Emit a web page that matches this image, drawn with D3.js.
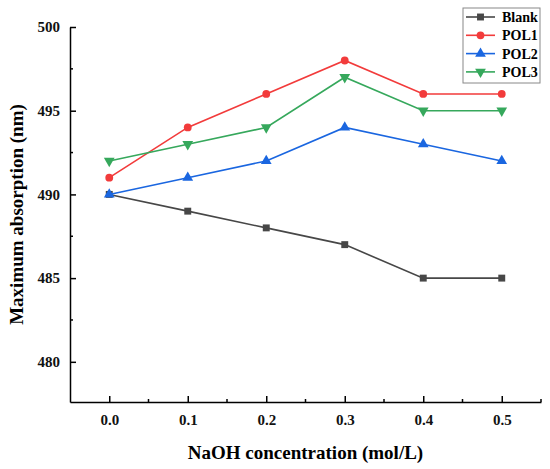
<!DOCTYPE html>
<html lang="en">
<head>
<meta charset="utf-8">
<title>Maximum absorption vs NaOH</title>
<script src="https://d3js.org/d3.v7.min.js"></script>
<style>
body { margin: 0; background: #fff; }
</style>
</head>
<body>
<script>
// data
const naoh = [0.0, 0.1, 0.2, 0.3, 0.4, 0.5];
const blank = [490, 489, 488, 487, 485, 485];
const pol1 = [491, 494, 496, 498, 496, 496];
const pol2 = [490, 491, 492, 494, 493, 492];
const pol3 = [492, 493, 494, 497, 495, 495];
const yTicks = [480, 485, 490, 495, 500];
const xTicks = [0.0, 0.1, 0.2, 0.3, 0.4, 0.5];

const series = [
  {name: "Blank", values: blank, color: "#474747", symbol: d3.symbolSquare, size: 48, rot: 0},
  {name: "POL1", values: pol1, color: "#F23B3B", symbol: d3.symbolCircle, size: 48, rot: 0},
  {name: "POL2", values: pol2, color: "#1A66E0", symbol: d3.symbolTriangle, size: 50, rot: 0},
  {name: "POL3", values: pol3, color: "#36A85C", symbol: d3.symbolTriangle, size: 50, rot: 180}
];

const width = 550, height = 469;
const plotLeft = 70, plotRight = 541, plotTop = 27, plotBottom = 402;
const serif = "Liberation Serif, Tinos, DejaVu Serif, serif";

const svg = d3.select("body").append("svg")
  .attr("width", width)
  .attr("height", height)
  .style("font-family", serif)
  .style("font-weight", "bold");

const x = d3.scaleLinear().domain([-0.05, 0.55]).range([plotLeft, plotRight]);
const y = d3.scaleLinear().domain([477.6, 500]).range([plotBottom, plotTop]);

// x axis, ticks pointing inward
const xAxis = d3.axisBottom(x)
  .tickValues(xTicks)
  .tickFormat(d3.format(".1f"))
  .tickSizeInner(-6)
  .tickSizeOuter(0)
  .tickPadding(12);
const gx = svg.append("g")
  .attr("transform", "translate(0," + plotBottom + ")")
  .call(xAxis);

// minor x ticks
svg.append("g").selectAll("line")
  .data(d3.range(0, 6).map(i => 0.05 + i * 0.1))
  .join("line")
  .attr("x1", d => x(d)).attr("x2", d => x(d))
  .attr("y1", plotBottom).attr("y2", plotBottom - 3)
  .attr("stroke", "#000").attr("stroke-width", 1.5);

// y axis
const yAxis = d3.axisLeft(y)
  .tickValues(yTicks)
  .tickSizeInner(-6)
  .tickSizeOuter(0)
  .tickPadding(10);
const gy = svg.append("g")
  .attr("transform", "translate(" + plotLeft + ",0)")
  .call(yAxis);

svg.append("g").selectAll("line")
  .data([482.5, 487.5, 492.5, 497.5])
  .join("line")
  .attr("x1", plotLeft).attr("x2", plotLeft + 3)
  .attr("y1", d => y(d)).attr("y2", d => y(d))
  .attr("stroke", "#000").attr("stroke-width", 1.5);

[gx, gy].forEach(g => {
  g.selectAll("text")
    .style("font-family", serif)
    .style("font-size", "15px")
    .style("font-weight", "bold")
    .attr("fill", "#111");
});
svg.selectAll(".domain").attr("stroke-width", 1.5);
svg.selectAll(".tick line").attr("stroke-width", 1.5);

// axis titles
svg.append("text")
  .attr("x", (plotLeft + plotRight) / 2)
  .attr("y", 459)
  .attr("text-anchor", "middle")
  .style("font-size", "19px")
  .text("NaOH concentration (mol/L)");

svg.append("text")
  .attr("transform", "translate(23," + (plotTop + plotBottom) / 2 + ") rotate(-90)")
  .attr("text-anchor", "middle")
  .style("font-size", "19px")
  .text("Maximum absorption (nm)");

// lines and markers
const line = d3.line()
  .x((d, i) => x(naoh[i]))
  .y(d => y(d));

series.forEach(s => {
  svg.append("path")
    .datum(s.values)
    .attr("fill", "none")
    .attr("stroke", s.color)
    .attr("stroke-width", 1.6)
    .attr("d", line);

  svg.append("g").selectAll("path")
    .data(s.values)
    .join("path")
    .attr("transform", (d, i) => "translate(" + x(naoh[i]) + "," + y(d) + ") rotate(" + s.rot + ")")
    .attr("d", d3.symbol().type(s.symbol).size(s.size))
    .attr("fill", s.color);
});

// legend
const lg = svg.append("g").attr("transform", "translate(463,8)");
lg.append("rect")
  .attr("width", 77).attr("height", 75)
  .attr("fill", "#fff")
  .attr("stroke", "#888")
  .attr("stroke-width", 1);

series.forEach((s, i) => {
  const yy = 9 + i * 18.3;
  lg.append("line")
    .attr("x1", 3).attr("x2", 32)
    .attr("y1", yy).attr("y2", yy)
    .attr("stroke", s.color).attr("stroke-width", 1.6);
  lg.append("path")
    .attr("transform", "translate(17.5," + yy + ") rotate(" + s.rot + ")")
    .attr("d", d3.symbol().type(s.symbol).size(s.size))
    .attr("fill", s.color);
  lg.append("text")
    .attr("x", 39)
    .attr("y", yy + 5)
    .style("font-size", "14px")
    .text(s.name);
});
</script>
</body>
</html>
